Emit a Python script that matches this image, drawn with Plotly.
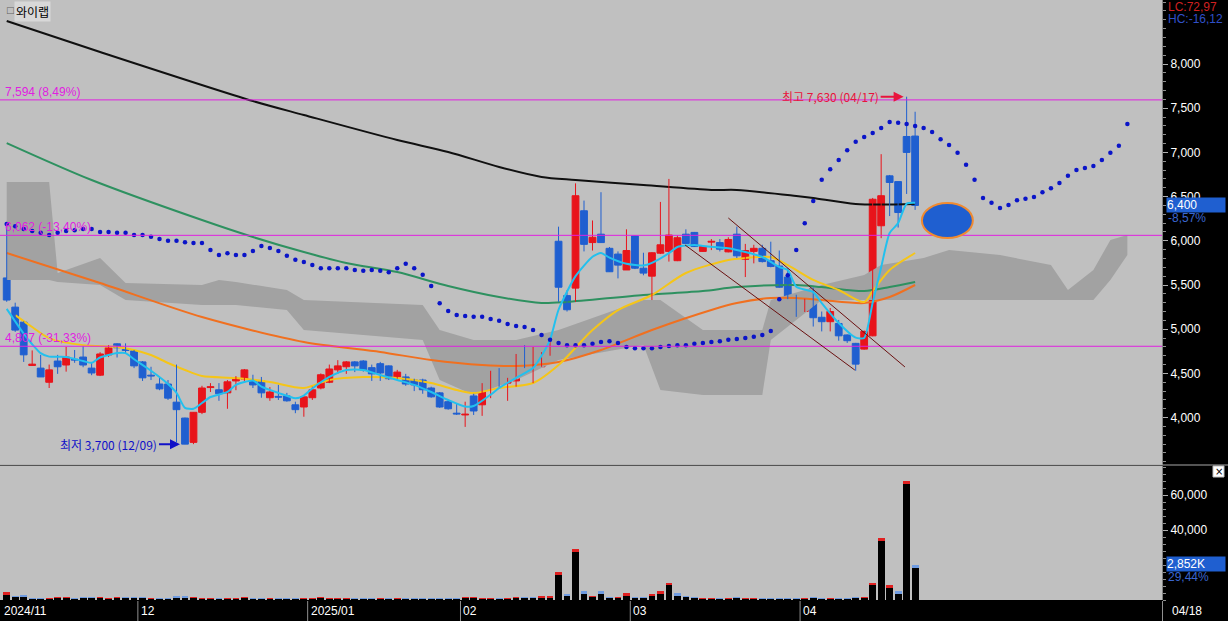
import plotly.graph_objects as go

# ---------------- data ----------------
opens = [5580,5250,5080,4590,4560,4400,4640,4595,4660,4685,4560,4480,4710,4835,4770,4755,4630,4480,4380,4380,
         4175,3995,3720,4060,4340,4315,4280,4415,4435,4425,4415,4225,4240,4245,4145,4120,4225,4335,4400,4540,
         4575,4630,4640,4565,4610,4585,4460,4460,4425,4425,4335,4280,4180,4050,4030,4245,4145,4350,4425,4390,
         4415,4730,4585,4575,4800,5995,5380,5465,6340,5980,6075,5915,5850,5670,6055,5690,5600,5860,5880,5775,
         6075,6095,5880,5985,5980,5875,6075,5790,5880,5915,5775,5715,5590,5340,5200,5465,5135,5085,5065,4935,
         4840,4775,4925,6170,6735,6670,7180,7185]
highs = [6210,5300,5090,4760,4710,4600,4710,4800,4765,4810,4620,4740,4820,4840,4840,4765,4640,4575,4450,4425,
         4600,4000,4060,4360,4390,4390,4425,4470,4550,4485,4460,4345,4370,4280,4180,4245,4350,4500,4600,4650,
         4640,4640,4650,4600,4630,4590,4540,4495,4440,4440,4350,4290,4200,4160,4180,4270,4390,4530,4560,4450,
         4720,4820,4800,4740,4890,6160,5440,6650,6455,6230,6550,5930,5880,6130,6060,5865,5870,6440,6700,6060,
         6130,6100,5940,6020,6020,6040,6160,5965,5955,5955,5990,5890,5690,5390,5345,5470,5200,5240,5105,4940,
         4845,4985,6485,6980,6745,6670,7630,7460]
lows = [5310,4970,4630,4585,4460,4335,4495,4520,4620,4570,4480,4470,4685,4680,4730,4560,4415,4425,4310,4200,
        3720,3700,3700,4040,4290,4190,4100,4310,4405,4335,4225,4190,4200,4180,4050,4010,4200,4320,4390,4495,
        4495,4515,4520,4415,4415,4425,4440,4360,4300,4270,4225,4110,4090,4030,3895,4030,4020,4220,4345,4190,
        4350,4560,4390,4575,4700,5310,5200,5310,5880,5890,5980,5650,5575,5670,5680,5610,5330,5850,5765,5770,
        5965,5930,5875,5895,5880,5870,5805,5590,5745,5755,5700,5470,5340,5140,5195,5030,4975,4975,4870,4845,
        4530,4770,4920,6030,6280,6150,6530,6350]
closes = [5330,4990,4710,4605,4460,4540,4575,4685,4650,4595,4505,4720,4790,4790,4760,4585,4450,4470,4325,4220,
          4090,3700,4060,4335,4350,4270,4405,4435,4540,4370,4280,4290,4230,4190,4090,4235,4315,4485,4550,4585,
          4630,4585,4540,4495,4505,4440,4515,4380,4370,4315,4235,4120,4100,4040,4040,4075,4345,4415,4390,4425,
          4700,4630,4620,4720,4865,5475,5220,6510,5960,6040,5980,5650,5725,5890,5690,5635,5865,5955,6065,6035,
          5970,5935,5935,5995,5905,6015,5830,5890,5915,5765,5710,5475,5370,5200,5340,5130,5085,5200,4925,4870,
          4605,4975,6470,6510,6660,6320,7000,6400]
# trading value (million KRW)
volumes = [4500,2500,2800,1400,1200,1300,1500,1600,1200,1700,1700,1900,1100,1700,1500,1800,1900,1300,1400,1400,
           2200,2200,1500,1400,1400,1200,1300,1100,1600,1300,1000,1000,900,900,900,1000,1400,1500,1100,1000,
           1000,1000,1000,1000,1000,1000,1000,1000,1000,1000,1000,1000,1000,1200,1700,1500,1000,1300,1200,1000,
           1900,1700,1800,2100,2300,16000,3500,29000,5000,2500,5000,2000,1600,4000,2000,1500,3500,5000,10000,4000,
           2500,1600,1300,1100,1300,1300,1800,1200,1200,1200,1200,1300,1400,1300,1200,1600,1300,1300,1300,1300,
           1600,2000,10000,35500,8500,5200,68000,20000]

month_labels = ["2024/11", "12", "2025/01", "02", "03", "04"]
month_start = [0, 16, 36, 54, 74, 94]
last_date = "04/18"

black_x = [0, 11, 29, 35, 46, 52, 58, 63, 67, 75, 83, 86, 93, 95, 100, 107]
black_y = [8486, 8136, 7581, 7423, 7140, 7005, 6835, 6722, 6688, 6631, 6575, 6575, 6507, 6484, 6416, 6416]
green_x = [0, 10, 23, 29, 35, 40, 46, 52, 58, 63, 66, 75, 82, 86, 93, 96, 101, 104, 107]
green_y = [7106, 6688, 6235, 6043, 5873, 5749, 5647, 5489, 5364, 5296, 5308, 5387, 5432, 5477, 5500, 5477, 5432, 5477, 5534]
orange_x = [0, 11, 23, 35, 44, 50, 56, 60, 65, 70, 76, 83, 86, 90, 93, 96, 101, 104, 107]
orange_y = [5862, 5523, 5138, 4855, 4742, 4652, 4595, 4584, 4629, 4765, 4991, 5217, 5296, 5353, 5353, 5330, 5296, 5364, 5500]
yellow_x = [1, 3, 5, 9, 13, 15, 17, 19, 21, 23, 27, 31, 35, 38, 42, 46, 50, 53, 55, 58, 62, 65, 69, 72, 76, 80, 85, 87, 90, 92, 95, 98, 101, 102, 104, 107]
yellow_y = [5160, 5025, 4900, 4820, 4800, 4765, 4708, 4618, 4539, 4471, 4448, 4403, 4335, 4426, 4459, 4448, 4391, 4312, 4278, 4335, 4391, 4595, 4990, 5217, 5387, 5636, 5783, 5805, 5817, 5726, 5557, 5444, 5308, 5430, 5670, 5862]
cyan_x = [0, 2, 3, 4, 5, 7, 9, 10, 11, 13, 14, 15, 17, 19, 20, 21, 22, 23, 24, 26, 27, 29, 30, 32, 34, 35, 36, 38, 40, 42, 44, 46, 48, 50, 52, 54, 55, 57, 58, 60, 62, 63, 64, 65, 67, 69, 70, 71, 73, 75, 76, 78, 79, 81, 82, 85, 87, 89, 91, 92, 93, 95, 96, 98, 100, 101, 102, 103, 104, 105, 106, 107]
cyan_y = [5230, 4950, 4830, 4730, 4690, 4686, 4640, 4620, 4680, 4730, 4730, 4660, 4530, 4380, 4280, 4110, 4100, 4165, 4233, 4290, 4370, 4420, 4350, 4280, 4220, 4250, 4330, 4460, 4539, 4539, 4482, 4426, 4370, 4290, 4199, 4125, 4131, 4260, 4335, 4450, 4561, 4700, 4880, 5220, 5600, 5820, 5862, 5810, 5740, 5720, 5750, 5860, 5930, 5953, 5941, 5915, 5873, 5817, 5704, 5670, 5480, 5420, 5296, 5070, 4905, 4901, 5300, 5700, 6088, 6200, 6420, 6430]

dots = [6190,6165,6135,6110,6090,6065,6090,6110,6120,6135,6135,6100,6100,6090,6090,6065,6065,6045,6020,6000,
        6000,5985,5975,5975,5895,5840,5860,5840,5840,5885,5940,5920,5885,5830,5785,5760,5725,5690,5690,5690,
        5690,5670,5660,5670,5660,5645,5690,5740,5690,5615,5490,5295,5205,5160,5150,5140,5140,5115,5095,5060,
        5035,5025,4990,4935,4880,4845,4820,4820,4820,4835,4855,4865,4845,4800,4785,4785,4785,4800,4810,4820,
        4820,4835,4845,4855,4865,4880,4890,4900,4915,4935,4980,5340,5610,5895,6200,6450,6690,6810,6915,7025,
        7120,7175,7220,7275,7345,7335,7320,7300,7275,7230,7150,7085,6995,6860,6690,6485,6430,6370,6405,6460,
        6475,6495,6550,6595,6655,6735,6800,6825,6845,6915,6995,7075,7320]

cloud_x = [0, 5, 6, 11, 14, 23, 25, 27, 33, 35, 49, 51, 55, 60, 65, 75, 77, 82, 89, 90, 96, 101, 103, 108, 111, 117, 123, 125, 128, 130, 132]
cloud_top = [6665, 6665, 5636, 5806, 5523, 5500, 5557, 5534, 5444, 5330, 5274, 4991, 4878, 4878, 4991, 5330, 5330, 4991, 4991, 5330, 5500, 5613, 5726, 5806, 5896, 5839, 5726, 5444, 5670, 6009, 6066]
cloud_bot = [5557, 5557, 5534, 5500, 5330, 5274, 5274, 5274, 5217, 4991, 4878, 4426, 4256, 4426, 4652, 4821, 4312, 4256, 4256, 4878, 5330, 5330, 5330, 5330, 5330, 5330, 5330, 5330, 5330, 5557, 5839]

levels = [7594, 6062, 4807]
level_labels = ["7,594 (8,49%)", "6,062 (-13,40%)", "4,807 (-31,33%)"]

high_idx, high_val, high_text = 106, 7630, "최고 7,630 (04/17)"
low_idx, low_val, low_text = 21, 3700, "최저 3,700 (12/09)"

channel_a = ([85, 105.8], [6258, 4573])
channel_b = ([79.9, 99.9], [5953, 4538])
ellipse = dict(x0=107.8, x1=113.8, y0=6032, y1=6428)

# ---------------- styling ----------------
W, H = 1228, 621
PLOT_R = 1162 / W
RED = "#e8141b"
BLUE = "#1f5fd0"
BG = "#c0c0c0"
BODY_W = 0.8
n = len(closes)
idx = list(range(n))

fig = go.Figure()

# cloud
fig.add_trace(go.Scatter(x=cloud_x, y=cloud_bot, mode="lines", line=dict(width=0, color="#a2a2a2"),
                         hoverinfo="skip", showlegend=False))
fig.add_trace(go.Scatter(x=cloud_x, y=cloud_top, mode="lines", line=dict(width=0, color="#a2a2a2"),
                         fill="tonexty", fillcolor="#a2a2a2", hoverinfo="skip", showlegend=False))

# moving averages
for xs, ys, col, w in [(black_x, black_y, "#101010", 2), (green_x, green_y, "#2e9160", 2),
                       (orange_x, orange_y, "#f07020", 2), (yellow_x, yellow_y, "#f5c518", 2)]:
    fig.add_trace(go.Scatter(x=xs, y=ys, mode="lines", line=dict(color=col, width=w, shape="spline", smoothing=0.8),
                             hoverinfo="skip", showlegend=False))

# candles
wx_r, wy_r, wx_b, wy_b = [], [], [], []
body_base, body_h, body_col = [], [], []
for i in idx:
    up = closes[i] >= opens[i]
    if up:
        wx_r += [i, i, None]; wy_r += [lows[i], highs[i], None]
    else:
        wx_b += [i, i, None]; wy_b += [lows[i], highs[i], None]
    lo = min(opens[i], closes[i])
    body_base.append(lo)
    body_h.append(max(abs(closes[i] - opens[i]), 10))
    body_col.append(RED if up else BLUE)
fig.add_trace(go.Scatter(x=wx_r, y=wy_r, mode="lines", line=dict(color=RED, width=1), hoverinfo="skip", showlegend=False))
fig.add_trace(go.Scatter(x=wx_b, y=wy_b, mode="lines", line=dict(color=BLUE, width=1), hoverinfo="skip", showlegend=False))
fig.add_trace(go.Bar(x=idx, y=body_h, base=body_base, width=BODY_W, marker=dict(color=body_col, line=dict(color=body_col, width=1)),
                     hoverinfo="skip", showlegend=False))

# cyan 5-day line
fig.add_trace(go.Scatter(x=cyan_x, y=cyan_y, mode="lines", line=dict(color="#22c0ee", width=2, shape="spline", smoothing=0.6),
                         hoverinfo="skip", showlegend=False))

# dots
fig.add_trace(go.Scatter(x=list(range(len(dots))), y=dots, mode="markers",
                         marker=dict(color="#0a14c8", size=4.5), hoverinfo="skip", showlegend=False))

# volume
fig.add_trace(go.Bar(x=idx, y=volumes, width=BODY_W, marker=dict(color="#000000", line=dict(width=0)),
                     yaxis="y2", hoverinfo="skip", showlegend=False))
cap_h = [min(1600, v * 0.4) for v in volumes]
cap_base = [v - c for v, c in zip(volumes, cap_h)]
cap_col = ["#e02020" if (i > 0 and closes[i] >= closes[i - 1]) or i == 0 else "#6f9be0" for i in idx]
fig.add_trace(go.Bar(x=idx, y=cap_h, base=cap_base, width=BODY_W, marker=dict(color=cap_col, line=dict(width=0)),
                     yaxis="y2", hoverinfo="skip", showlegend=False))

shapes = []
annotations = []
lab_font = "Liberation Sans, Arial"
# level lines
for lv, lab in zip(levels, level_labels):
    shapes.append(dict(type="line", xref="paper", x0=0, x1=PLOT_R, yref="y", y0=lv, y1=lv,
                       line=dict(color="#e020e0", width=1)))
    annotations.append(dict(xref="paper", x=3 / W, yref="y", y=lv, text=lab, showarrow=False, xanchor="left",
                            yanchor="bottom", yshift=-1, font=dict(color="#e020e0", size=12, family=lab_font)))
# channel lines
for xs, ys in (channel_a, channel_b):
    shapes.append(dict(type="line", xref="x", yref="y", x0=xs[0], x1=xs[1], y0=ys[0], y1=ys[1],
                       line=dict(color="#6a1010", width=1)))
# ellipse
shapes.append(dict(type="circle", xref="x", yref="y", fillcolor=BLUE, line=dict(color="#f08a30", width=2), **ellipse))

# panel separator
shapes.append(dict(type="line", xref="paper", yref="paper", x0=0, x1=1, y0=156 / H, y1=156 / H,
                   line=dict(color="#a8a8a8", width=1)))
# bottom band separators
for ms in month_start[1:]:
    shapes.append(dict(type="line", xref="x", yref="paper", x0=ms - 0.55, x1=ms - 0.55, y0=0, y1=20 / H,
                       line=dict(color="#909090", width=1)))
shapes.append(dict(type="line", xref="paper", yref="paper", x0=PLOT_R + 0.5 / W, x1=PLOT_R + 0.5 / W, y0=0, y1=20 / H,
                   line=dict(color="#909090", width=1)))
# close box icon of the volume pane
shapes.append(dict(type="rect", xref="paper", yref="paper", x0=1213 / W, x1=1224 / W, y0=1 - 477 / H, y1=1 - 466 / H,
                   fillcolor="white", line=dict(color="#c0c0c0", width=1)))
for lab, ms in zip(month_labels, month_start):
    xpos = ms - 0.45 if ms > 0 else -0.55
    annotations.append(dict(xref="x", x=xpos, yref="paper", y=10 / H, text=lab, showarrow=False, xanchor="left",
                            yanchor="middle", font=dict(color="white", size=12, family=lab_font)))
annotations.append(dict(xref="paper", x=1170 / W, yref="paper", y=10 / H, text=last_date, showarrow=False,
                        xanchor="left", yanchor="middle", font=dict(color="white", size=12, family=lab_font)))

# high / low markers
annotations.append(dict(xref="x", x=high_idx, yref="y", y=high_val, text=high_text, showarrow=True, ax=-76, ay=0,
                        arrowhead=2, arrowsize=1, arrowwidth=2, arrowcolor="#e8143c", standoff=3,
                        font=dict(color="#e8143c", size=12, family="Noto Sans CJK KR")))
annotations.append(dict(xref="x", x=low_idx, yref="y", y=low_val, text=low_text, showarrow=True, ax=-76, ay=0,
                        arrowhead=2, arrowsize=1, arrowwidth=2, arrowcolor="#1010c8", standoff=5,
                        font=dict(color="#1010c8", size=12, family="Noto Sans CJK KR")))

# title box
annotations.append(dict(xref="paper", yref="paper", x=4 / W, y=1 - 3 / H, text="□", showarrow=False, xanchor="left",
                        yanchor="top", font=dict(color="#606060", size=9, family="DejaVu Sans")))
annotations.append(dict(xref="paper", yref="paper", x=14 / W, y=1 - 1 / H, text="와이랩", showarrow=False,
                        xanchor="left", yanchor="top", bgcolor="#d8d8d8",
                        font=dict(color="#000000", size=12, family="Noto Sans CJK KR")))

# right panel labels
def rlab(text, ypix, color, bg=None, size=12):
    d = dict(xref="paper", yref="paper", x=1166 / W, y=1 - ypix / H, text=text, showarrow=False, xanchor="left",
             yanchor="middle", font=dict(color=color, size=size, family=lab_font))
    if bg:
        d.update(bgcolor=bg, borderpad=0, width=58, align="left")
    return d

annotations.append(rlab("LC:72,97", 7, "#d02020"))
annotations.append(rlab("HC:-16,12", 19, "#3050c8"))
annotations.append(rlab("6,400", 205, "white", BLUE))
annotations.append(rlab("-8,57%", 218, "#3a66d0"))
annotations.append(rlab("2,852K", 564, "white", BLUE))
annotations.append(rlab("29,44%", 577, "#3a66d0"))
annotations.append(dict(xref="paper", yref="paper", x=1218.5 / W, y=1 - 471.5 / H, text="×", showarrow=False,
                        xanchor="center", yanchor="middle", font=dict(color="black", size=10, family="DejaVu Sans")))

axis_font = dict(color="white", size=12, family=lab_font)
fig.update_layout(
    width=W, height=H, margin=dict(l=0, r=0, t=0, b=0),
    paper_bgcolor="#000000", plot_bgcolor=BG,
    barmode="overlay", bargap=0, showlegend=False,
    xaxis=dict(domain=[0, PLOT_R], range=[-0.79, 136.08], showticklabels=False, showgrid=False, zeroline=False,
               ticks="", showline=False, fixedrange=True),
    yaxis=dict(domain=[156 / H, 1], range=[3464, 8724], side="right", tickvals=[4000, 4500, 5000, 5500, 6000, 6500, 7000, 7500, 8000],
               tickformat=",d", tickfont=axis_font, ticks="outside", ticklen=5, tickcolor="#b0b0b0",
               minor=dict(dtick=100, ticklen=3, tickcolor="#909090", ticks="outside", showgrid=False),
               showgrid=False, zeroline=False, showline=True, linecolor="#808080"),
    yaxis2=dict(domain=[21 / H, 155 / H], range=[0, 76570], side="right", anchor="x", tickvals=[40000, 60000],
                tickformat=",d", tickfont=axis_font, ticks="outside", ticklen=5, tickcolor="#b0b0b0",
                minor=dict(dtick=4000, ticklen=3, tickcolor="#909090", ticks="outside", showgrid=False),
                showgrid=False, zeroline=False, showline=True, linecolor="#808080"),
    shapes=shapes, annotations=annotations,
)

fig.write_html("out.html", config={"displayModeBar": False, "staticPlot": True},
               post_script="document.body.style.margin='0';document.body.style.padding='0';document.body.style.overflow='hidden';")
